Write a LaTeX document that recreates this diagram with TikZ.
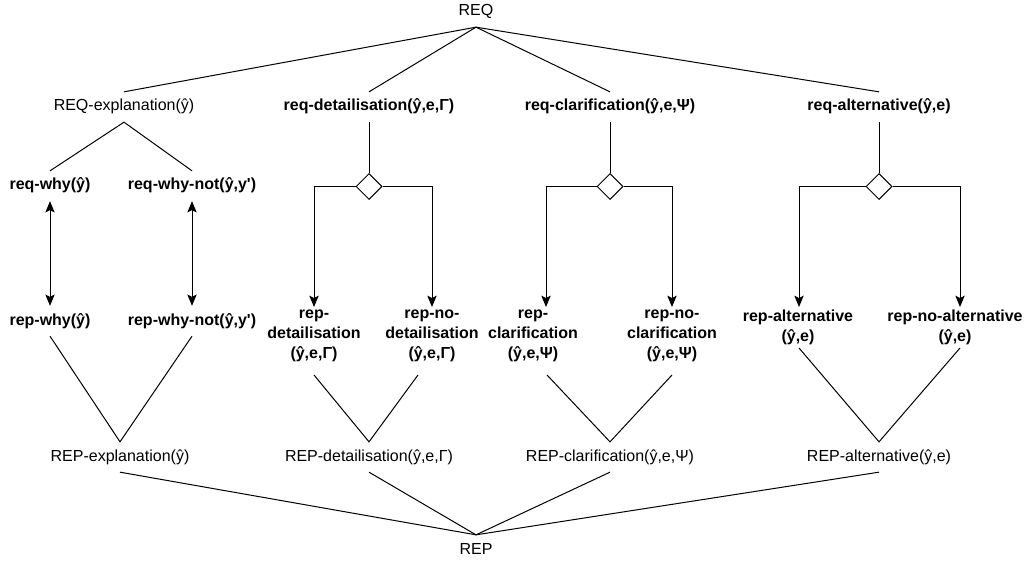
\documentclass[tikz,border=0pt]{standalone}
\usepackage{fontspec}
\setmainfont{Liberation Sans}
\usetikzlibrary{arrows.meta,shapes.geometric,calc}
\begin{document}
\begin{tikzpicture}[x=0.75pt,y=-0.75pt, line width=0.75pt,
  lbl/.style={inner xsep=0pt, inner ysep=5pt, text height=9pt, text depth=3pt, font=\fontsize{12}{15}\selectfont},
  blbl/.style={lbl, font=\fontsize{12}{15}\selectfont\bfseries},
  mlbl/.style={inner sep=0pt, align=center, font=\fontsize{12}{15}\selectfont\bfseries},
  gate/.style={diamond, draw, fill=white, inner sep=0pt, minimum width=19.5pt, minimum height=19.5pt},
  tip/.tip={Stealth[length=8.5pt,width=7pt,inset=1.8pt]},
  arr/.style={-tip},
  darr/.style={tip-tip}]
\useasboundingbox (0,0) rectangle (1031,563);

% top
\node[lbl] (REQ) at (476,12) {REQ};
\node[lbl] (REQex) at (124,107) {REQ-explanation(ŷ)};
\node[blbl] (rqd) at (369,107) {req-detailisation(ŷ,e,Γ)};
\node[blbl] (rqc) at (610,107) {req-clarification(ŷ,e,Ψ)};
\node[blbl] (rqa) at (879,107) {req-alternative(ŷ,e)};

\draw (REQ.south) -- (REQex.north);
\draw (REQ.south) -- (rqd.north);
\draw (REQ.south) -- (rqc.north);
\draw (REQ.south) -- (rqa.north);

% explanation branch
\node[blbl] (rqw) at (50,186) {req-why(ŷ)};
\node[blbl] (rqwn) at (192,186) {req-why-not(ŷ,y\textquotesingle)};
\node[blbl] (rpw) at (50,321) {rep-why(ŷ)};
\node[blbl] (rpwn) at (192,321) {rep-why-not(ŷ,y\textquotesingle)};
\draw (rqw.north) -- (REQex.south) -- (rqwn.north);
\draw[darr] (rqw.south) -- (rpw.north);
\draw[darr] (rqwn.south) -- (rpwn.north);

% gates
\node[gate] (gd) at (369,186.5) {};
\node[gate] (gc) at (610,186.5) {};
\node[gate] (ga) at (879,186.5) {};
\draw (rqd.south) -- (gd.north);
\draw (rqc.south) -- (gc.north);
\draw (rqa.south) -- (ga.north);

% rep nodes
\node[mlbl] (rpd) at (314,336) {rep-\\detailisation\\(ŷ,e,Γ)};
\node[mlbl] (rpnd) at (432,336) {rep-no-\\detailisation\\(ŷ,e,Γ)};
\node[mlbl] (rpc) at (533,336) {rep-\\clarification\\(ŷ,e,Ψ)};
\node[mlbl] (rpnc) at (672,336) {rep-no-\\clarification\\(ŷ,e,Ψ)};
\node[mlbl] (rpa) at (798,327) {rep-alternative\\(ŷ,e)};
\node[mlbl] (rpna) at (955,327) {rep-no-alternative\\(ŷ,e)};

\draw[arr] (gd.west) -| ($(rpd.center)+(0,-29)$);
\draw[arr] (gd.east) -| ($(rpnd.center)+(0,-29)$);
\draw[arr] (gc.west) -| ($(rpc.center)+(13,-29)$);
\draw[arr] (gc.east) -| ($(rpnc.center)+(0,-29)$);
\draw[arr] (ga.west) -| ($(rpa.center)+(1,-20)$);
\draw[arr] (ga.east) -| ($(rpna.center)+(5,-20)$);

% REP level
\node[lbl] (REPex) at (120,457) {REP-explanation(ŷ)};
\node[lbl] (REPd) at (369,457) {REP-detailisation(ŷ,e,Γ)};
\node[lbl] (REPc) at (610,457) {REP-clarification(ŷ,e,Ψ)};
\node[lbl] (REPa) at (879,457) {REP-alternative(ŷ,e)};
\node[lbl] (REP) at (476,550) {REP};

\draw (rpw.south) -- (REPex.north) -- (rpwn.south);
\draw ($(rpd.center)+(0,39)$) -- (REPd.north) -- ($(rpnd.center)+(-14,39)$);
\draw ($(rpc.center)+(14,39)$) -- (REPc.north) -- ($(rpnc.center)+(0,39)$);
\draw ($(rpa.center)+(1,21)$) -- (REPa.north) -- ($(rpna.center)+(5,21)$);

\draw (REPex.south) -- (REP.north);
\draw (REPd.south) -- (REP.north);
\draw (REPc.south) -- (REP.north);
\draw (REPa.south) -- (REP.north);
\end{tikzpicture}
\end{document}
